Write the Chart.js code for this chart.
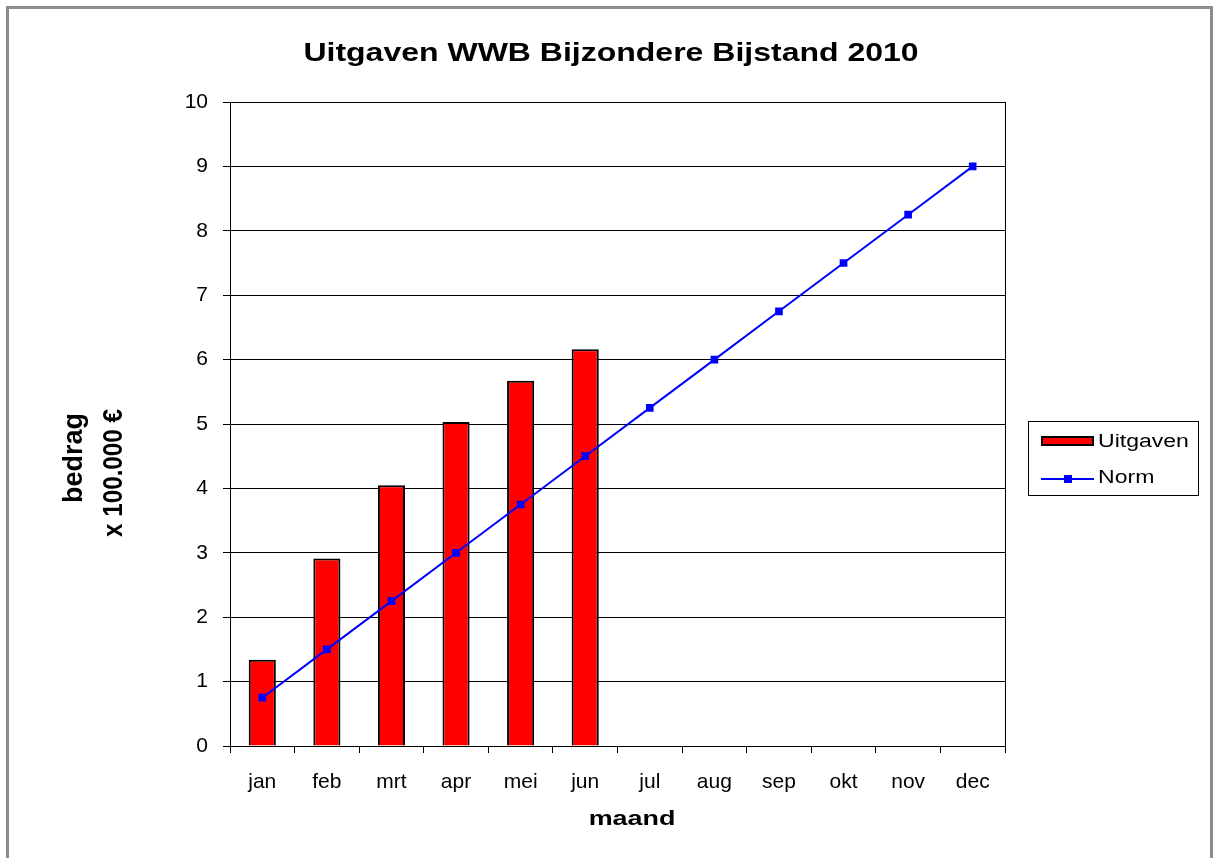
<!DOCTYPE html>
<html>
<head>
<meta charset="utf-8">
<script src="https://cdn.jsdelivr.net/npm/chart.js@4/dist/chart.umd.min.js"></script>
<style>
  html, body { margin: 0; padding: 0; background: #fff; }
  #wrap { position: relative; width: 1214px; height: 858px; overflow: hidden; }
  #frame { position: absolute; left: 6px; top: 6px; width: 1207px; height: 900px; border: 3px solid #8c8c8c; box-sizing: border-box; pointer-events: none; }
  canvas { position: absolute; left: 0; top: 0; }
</style>
</head>
<body>
<div id="wrap">
  <canvas id="c" width="1214" height="858"></canvas>
  <div id="frame"></div>
</div>
<script>
const titleText = 'Uitgaven WWB Bijzondere Bijstand 2010';
const months = ['jan','feb','mrt','apr','mei','jun','jul','aug','sep','okt','nov','dec'];
const uitgaven = [1.34, 2.91, 4.05, 5.03, 5.67, 6.16, null, null, null, null, null, null];
const norm = [0.75, 1.5, 2.25, 3.0, 3.75, 4.5, 5.25, 6.0, 6.75, 7.5, 8.25, 9.0];
const yTicks = [0,1,2,3,4,5,6,7,8,9,10];
const xTitle = 'maand';
const yTitle = ['bedrag', 'x 100.000 €'];

const FONT = '"Liberation Sans", Arial, sans-serif';
const STRETCH = 1.28;

function stretchedText(ctx, text, x, y, align) {
  ctx.save();
  ctx.translate(x, y);
  ctx.scale(STRETCH, 1);
  ctx.textAlign = align;
  ctx.fillText(text, 0, 0);
  ctx.restore();
}

const extras = {
  id: 'extras',
  afterDraw(chart) {
    const ctx = chart.ctx;
    const a = chart.chartArea;
    ctx.save();
    // right border of plot area
    ctx.strokeStyle = '#000';
    ctx.lineWidth = 1;
    ctx.beginPath();
    ctx.moveTo(a.right + 0.5, a.top);
    ctx.lineTo(a.right + 0.5, a.bottom);
    ctx.stroke();

    ctx.fillStyle = '#000';
    // chart title
    ctx.font = 'bold 25px ' + FONT;
    ctx.textBaseline = 'alphabetic';
    stretchedText(ctx, titleText, 611, 61, 'center');

    // x axis title
    ctx.font = 'bold 21px ' + FONT;
    stretchedText(ctx, xTitle, 632, 825, 'center');

    // y axis title (rotated)
    ctx.font = 'bold 25px ' + FONT;
    ctx.textAlign = 'center';
    ctx.textBaseline = 'middle';
    ctx.save();
    ctx.translate(75, 458);
    ctx.rotate(-Math.PI / 2);
    ctx.scale(1.08, STRETCH * 0.85);
    ctx.fillText(yTitle[0], 0, 0);
    ctx.restore();
    ctx.save();
    ctx.translate(115, 473);
    ctx.rotate(-Math.PI / 2);
    ctx.scale(0.97, STRETCH * 0.85);
    ctx.fillText(yTitle[1], 0, 0);
    ctx.restore();

    // legend
    const ds = chart.data.datasets;
    const bar = ds.find(d => d.label === 'Uitgaven');
    const line = ds.find(d => d.label === 'Norm');
    ctx.strokeStyle = '#000';
    ctx.lineWidth = 1;
    ctx.strokeRect(1028.5, 421.5, 170, 74);
    ctx.fillStyle = bar.backgroundColor;
    ctx.fillRect(1042, 437, 51, 8);
    ctx.strokeStyle = bar.borderColor;
    ctx.lineWidth = 2;
    ctx.strokeRect(1042, 437, 51, 8);
    ctx.strokeStyle = line.borderColor;
    ctx.lineWidth = 2;
    ctx.beginPath();
    ctx.moveTo(1041, 479);
    ctx.lineTo(1094, 479);
    ctx.stroke();
    ctx.fillStyle = line.pointBackgroundColor;
    ctx.fillRect(1064, 475, 8, 8);
    ctx.fillStyle = '#000';
    ctx.font = '18px ' + FONT;
    ctx.textBaseline = 'middle';
    stretchedText(ctx, bar.label, 1098, 442, 'left');
    stretchedText(ctx, line.label, 1098, 478, 'left');
    ctx.restore();
  }
};

new Chart(document.getElementById('c'), {
  data: {
    labels: months,
    datasets: [
      {
        type: 'line',
        label: 'Norm',
        data: norm,
        borderColor: '#0000ff',
        backgroundColor: '#0000ff',
        pointBackgroundColor: '#0000ff',
        pointBorderColor: '#0000ff',
        pointStyle: 'rect',
        pointRadius: 4,
        borderWidth: 2,
        tension: 0,
        order: 0
      },
      {
        type: 'bar',
        label: 'Uitgaven',
        data: uitgaven,
        backgroundColor: '#ff0000',
        borderColor: '#000000',
        borderWidth: 2,
        barPercentage: 0.42,
        categoryPercentage: 1,
        order: 1
      }
    ]
  },
  options: {
    responsive: false,
    animation: false,
    devicePixelRatio: 1,
    layout: { padding: { left: 150, right: 209, top: 102, bottom: 56 } },
    plugins: {
      legend: { display: false },
      tooltip: { enabled: false },
      title: { display: false }
    },
    scales: {
      x: {
        offset: true,
        grid: { display: true, drawOnChartArea: false, drawTicks: true, tickLength: 7, color: '#000', offset: true },
        border: { display: true, color: '#000', width: 1 },
        ticks: { color: '#000', font: { family: FONT, size: 21 }, padding: 17, maxRotation: 0, autoSkip: false },
        afterFit(s) { s.height = 56; }
      },
      y: {
        min: 0, max: 10,
        afterBuildTicks(s) { s.ticks = yTicks.map(v => ({ value: v })); },
        grid: { color: '#000', lineWidth: 1, drawTicks: true, tickLength: 7 },
        border: { display: true, color: '#000', width: 1 },
        ticks: { color: '#000', font: { family: FONT, size: 21 }, padding: 15 },
        afterFit(s) { s.width = 80; }
      }
    }
  },
  plugins: [extras]
});
</script>
</body>
</html>
